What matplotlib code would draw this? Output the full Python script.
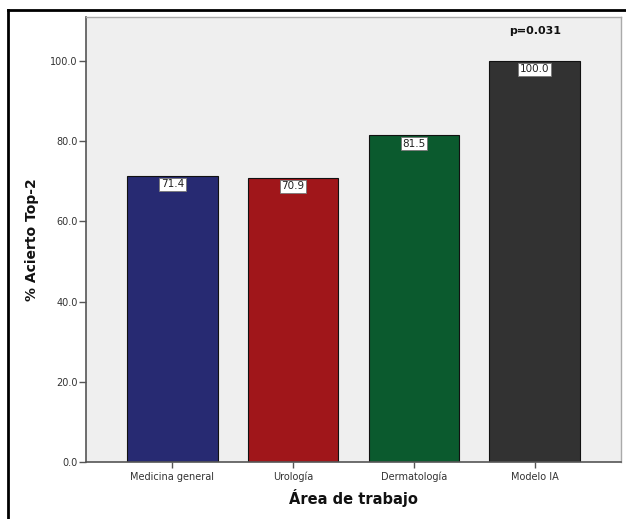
import matplotlib
matplotlib.use("Agg")
import matplotlib.pyplot as plt
from matplotlib.lines import Line2D

# Data
areas = ["Medicina general", "Urología", "Dermatología", "Modelo IA"]
acierto = [71.4, 70.9, 81.5, 100.0]
bar_colors = ["#272A72", "#A0161A", "#0B5A2E", "#323232"]
y_ticks = [0, 20, 40, 60, 80, 100]
p_text = "p=0.031"

fig = plt.figure(figsize=(6.26, 5.19), dpi=100)
ax = fig.add_axes([86 / 626, 1 - 462 / 519, (621 - 86) / 626, (462 - 17) / 519])
ax.set_facecolor("#EFEFEF")

x = list(range(len(areas)))
ax.bar(x, acierto, width=0.75, color=bar_colors, edgecolor="#111111", linewidth=0.8, zorder=2)

# value labels in white boxes at the top of each bar
for xi, v in zip(x, acierto):
    ax.annotate(f"{v:.1f}", xy=(xi, v), xytext=(0, -6), textcoords="offset points",
                ha="center", va="center", fontsize=7.5, color="#222222", zorder=3,
                bbox=dict(boxstyle="square,pad=0.15", facecolor="white", edgecolor="#777777", linewidth=0.6))

ax.text(x[-1], 107.5, p_text, ha="center", va="center", fontsize=8, fontweight="bold", color="#111111")

ax.set_xlim(-0.715, len(areas) - 1 + 0.715)
ax.set_ylim(0, 111)
ax.set_yticks(y_ticks)
ax.set_yticklabels([f"{t:.1f}" for t in y_ticks])
ax.set_xticks(x)
ax.set_xticklabels(areas)
ax.tick_params(axis="y", direction="out", length=5, width=1, color="#555555", labelsize=7, labelcolor="#333333", pad=1)
ax.tick_params(axis="x", direction="out", length=4, width=1, color="#555555", labelsize=7, labelcolor="#333333", pad=3)

for side in ["left", "bottom"]:
    ax.spines[side].set_color("#555555")
    ax.spines[side].set_linewidth(1.2)
for side in ["top", "right"]:
    ax.spines[side].set_color("#AAAAAA")
    ax.spines[side].set_linewidth(1.0)

ax.set_ylabel("% Acierto Top-2", fontsize=10, fontweight="bold", color="#111111", labelpad=8)
ax.set_xlabel("Área de trabajo", fontsize=10.5, fontweight="bold", color="#111111", labelpad=5)

# outer frame (left and top edges visible)
fig.add_artist(Line2D([8 / 626, 8 / 626], [0, 1 - 10 / 519], transform=fig.transFigure, color="black", linewidth=2))
fig.add_artist(Line2D([8 / 626, 1], [1 - 10 / 519, 1 - 10 / 519], transform=fig.transFigure, color="black", linewidth=2))

fig.savefig("out.png", dpi=100)
